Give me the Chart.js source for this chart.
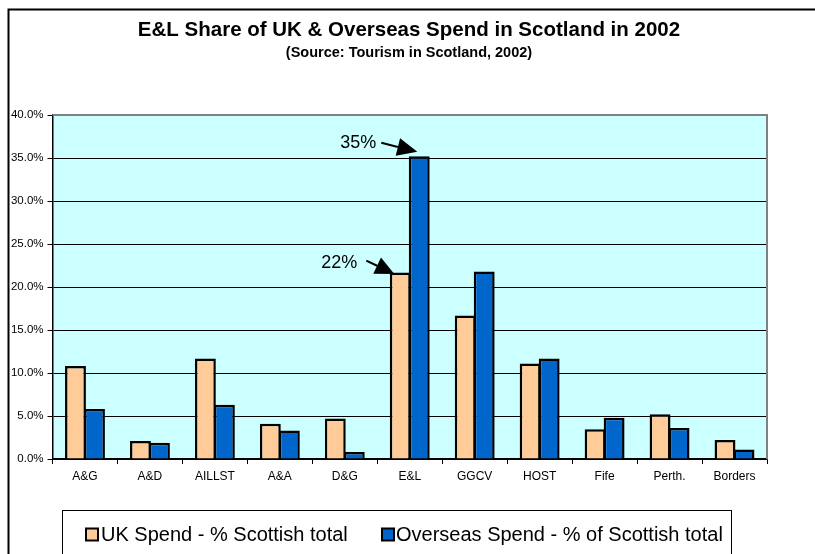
<!DOCTYPE html>
<html><head><meta charset="utf-8">
<script src="https://cdn.jsdelivr.net/npm/chart.js@4"></script>
<style>html,body{margin:0;padding:0;background:#fff;} canvas{display:block;}</style>
</head><body>
<canvas id="c" width="815" height="554"></canvas>
<script>
const categories = ['A&G', 'A&D', 'AILLST', 'A&A', 'D&G', 'E&L', 'GGCV', 'HOST', 'Fife', 'Perth.', 'Borders'];
const ukSpend = [10.8, 2.1, 11.7, 4.1, 4.7, 21.7, 16.7, 11.1, 3.45, 5.2, 2.2];
const overseasSpend = [5.8, 1.9, 6.3, 3.3, 0.8, 35.2, 21.8, 11.7, 4.8, 3.6, 1.1];
const seriesLabels = ['UK Spend - % Scottish total', 'Overseas Spend - % of Scottish total'];
const yTickLabels = ['0.0%', '5.0%', '10.0%', '15.0%', '20.0%', '25.0%', '30.0%', '35.0%', '40.0%'];
const titleText = 'E&L Share of UK & Overseas Spend in Scotland in 2002';
const subtitleText = '(Source: Tourism in Scotland, 2002)';
const calloutTexts = ['35%', '22%'];

const FONT = '"Liberation Sans", Arial, Helvetica, sans-serif';

function drawArrow(ctx, x0, y0, x1, y1, headLen, headHalf) {
  const ang = Math.atan2(y1 - y0, x1 - x0);
  const bx = x1 - headLen * Math.cos(ang), by = y1 - headLen * Math.sin(ang);
  ctx.beginPath();
  ctx.moveTo(x0, y0); ctx.lineTo(bx, by);
  ctx.lineWidth = 2; ctx.strokeStyle = '#000'; ctx.stroke();
  ctx.beginPath();
  ctx.moveTo(x1, y1);
  ctx.lineTo(bx + headHalf * Math.sin(ang), by - headHalf * Math.cos(ang));
  ctx.lineTo(bx - headHalf * Math.sin(ang), by + headHalf * Math.cos(ang));
  ctx.closePath();
  ctx.fillStyle = '#000'; ctx.fill();
}

const decorPlugin = {
  id: 'decor',
  beforeDraw(chart) {
    const {ctx, chartArea: a} = chart;
    ctx.save();
    ctx.fillStyle = '#fff';
    ctx.fillRect(0, 0, chart.width, chart.height);
    ctx.fillStyle = '#CCFFFF';
    ctx.fillRect(a.left, a.top, a.right - a.left, a.bottom - a.top);
    ctx.strokeStyle = '#000'; ctx.lineWidth = 2;
    ctx.beginPath(); ctx.moveTo(8.5, chart.height); ctx.lineTo(8.5, 9.5); ctx.lineTo(chart.width, 9.5); ctx.stroke();
    ctx.fillStyle = '#000'; ctx.textAlign = 'center'; ctx.textBaseline = 'middle';
    ctx.font = 'bold 20.5px ' + FONT; ctx.fillText(titleText, 409, 30);
    ctx.font = 'bold 14.5px ' + FONT; ctx.fillText(subtitleText, 409, 53);
    ctx.restore();
  },
  afterDraw(chart) {
    const {ctx, chartArea: a} = chart;
    ctx.save();
    // plot-area gray border (top, right)
    ctx.strokeStyle = '#808080'; ctx.lineWidth = 2;
    ctx.beginPath(); ctx.moveTo(a.left, a.top); ctx.lineTo(a.right, a.top); ctx.lineTo(a.right, a.bottom); ctx.stroke();
    // callouts
    const ci = categories.indexOf('E&L');
    const ov = chart.getDatasetMeta(1).data[ci];
    const uk = chart.getDatasetMeta(0).data[ci];
    ctx.font = '18px ' + FONT; ctx.textAlign = 'right'; ctx.textBaseline = 'middle'; ctx.fillStyle = '#000';
    let tx = ov.x - ov.width / 2 + 8.5, ty = ov.y - 4.5;
    drawArrow(ctx, tx - 36, ty - 9, tx, ty, 20, 9);
    ctx.fillStyle = '#000';
    ctx.fillText(calloutTexts[0], tx - 41, ty - 8.5);
    tx = uk.x - uk.width / 2 + 4.5; ty = uk.y + 1.5;
    drawArrow(ctx, tx - 28, ty - 13.3, tx, ty, 19, 9);
    ctx.fillStyle = '#000';
    ctx.fillText(calloutTexts[1], tx - 37, ty - 11);
    // legend
    ctx.strokeStyle = '#000'; ctx.lineWidth = 1;
    ctx.strokeRect(62.5, 510.5, 669, 60);
    const items = [{bx: 86, tx: 101}, {bx: 382, tx: 396}];
    ctx.font = '20px ' + FONT; ctx.textAlign = 'left'; ctx.textBaseline = 'middle';
    chart.data.datasets.forEach((ds, i) => {
      ctx.fillStyle = ds.backgroundColor;
      ctx.fillRect(items[i].bx, 528.5, 12, 12);
      ctx.lineWidth = 2; ctx.strokeStyle = '#000';
      ctx.strokeRect(items[i].bx, 528.5, 12, 12);
      ctx.fillStyle = '#000';
      ctx.fillText(ds.label, items[i].tx, 535);
    });
    ctx.restore();
  }
};

new Chart(document.getElementById('c'), {
  type: 'bar',
  data: {
    labels: categories,
    datasets: [
      {label: seriesLabels[0], data: ukSpend, backgroundColor: '#FFCC99', borderColor: '#000', borderWidth: 2.5, borderSkipped: 'start'},
      {label: seriesLabels[1], data: overseasSpend, backgroundColor: '#0066CC', borderColor: '#000', borderWidth: 2.5, borderSkipped: 'start'}
    ]
  },
  options: {
    responsive: false,
    animation: false,
    devicePixelRatio: 1,
    layout: {padding: {top: 115, right: 48, bottom: 65, left: 0}},
    datasets: {bar: {categoryPercentage: 0.585, barPercentage: 1.1}},
    plugins: {legend: {display: false}, title: {display: false}, tooltip: {enabled: false}},
    scales: {
      x: {
        grid: {display: true, drawOnChartArea: false, drawTicks: true, tickLength: 5, color: '#000', offset: true},
        border: {color: '#000', width: 1.5},
        ticks: {color: '#000', font: {family: FONT, size: 12}, padding: 5, maxRotation: 0, autoSkip: false},
        afterFit(s) { s.height = 30; }
      },
      y: {
        min: 0, max: 40,
        grid: {color: '#000', lineWidth: 1, tickLength: 5, drawTicks: true},
        border: {color: '#000', width: 1.5},
        ticks: {stepSize: 5, color: '#000', font: {family: FONT, size: 11.5}, padding: 4,
          callback: (v, i) => yTickLabels[i]},
        afterFit(s) { s.width = 52.5; }
      }
    }
  },
  plugins: [decorPlugin]
});
</script>
</body></html>
